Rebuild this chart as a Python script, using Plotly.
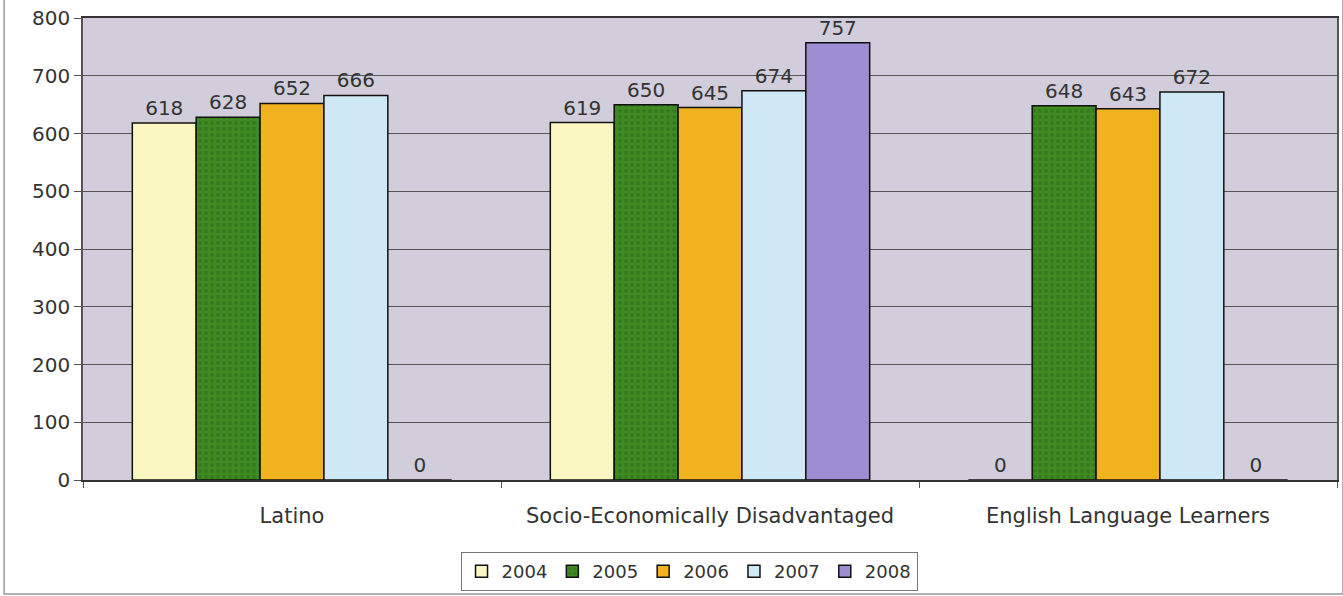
import plotly.graph_objects as go

categories = ["Latino", "Socio-Economically Disadvantaged", "English Language Learners"]
years = ["2004", "2005", "2006", "2007", "2008"]
v2004 = [618, 619, 0]
v2005 = [628, 650, 648]
v2006 = [652, 645, 643]
v2007 = [666, 674, 672]
v2008 = [0, 757, 0]
series = [v2004, v2005, v2006, v2007, v2008]
colors = ["#FAF7C2", "#3F8A22", "#F1B21F", "#CFE8F6", "#9D8ED2"]
y_ticks = [0, 100, 200, 300, 400, 500, 600, 700, 800]

FONT = "DejaVu Sans, sans-serif"

fig = go.Figure()
for yr, vals, col in zip(years, series, colors):
    marker = dict(color=col, line=dict(color="#111", width=1.5))
    if yr == "2005":
        marker["pattern"] = dict(shape=".", fgcolor="#2C6A16", bgcolor=col, size=6, solidity=0.35)
    fig.add_trace(go.Bar(
        name=yr, x=categories, y=vals,
        text=[str(v) for v in vals], textposition="outside",
        textfont=dict(family=FONT, size=20, color="#333"),
        cliponaxis=False,
        marker=marker,
    ))

W, H = 1343, 596
L, R, T, B = 83, 1339, 18, 480
PW, PH = R - L, B - T
fig.update_layout(
    width=W, height=H,
    barmode="group", bargap=0.236, bargroupgap=0,
    paper_bgcolor="white", plot_bgcolor="#D1CDDA",
    margin=dict(l=L, r=W - R, t=T, b=H - B),
    font=dict(family=FONT, size=20, color="#333"),
    showlegend=True,
    legend=dict(orientation="h", x=(690 - L) / PW, xanchor="center", y=-(552 - B) / PH, yanchor="top",
                bordercolor="#777", borderwidth=1, bgcolor="white",
                font=dict(family=FONT, size=18, color="#333"),
                itemwidth=30, traceorder="normal", tracegroupgap=0),
)
fig.update_yaxes(range=[0, 800], tickvals=y_ticks, showgrid=True, gridcolor="#555", gridwidth=1,
                 ticks="outside", ticklen=7, tickcolor="#555", showline=True, linecolor="#555",
                 linewidth=1.5, mirror=True, zeroline=False,
                 tickfont=dict(family=FONT, size=20, color="#333"))
fig.update_xaxes(showline=True, linecolor="#333", linewidth=1.5, mirror=True,
                 tickson="boundaries", ticks="outside", ticklen=6, tickcolor="#555",
                 ticklabelstandoff=16,
                 tickfont=dict(family=FONT, size=21, color="#333"))
fig.add_shape(type="rect", xref="paper", yref="paper",
              x0=(4 - L) / PW, x1=(1345 - L) / PW,
              y0=-(594 - B) / PH, y1=1 + 30 / PH,
              line=dict(color="#999", width=1.5), fillcolor="rgba(0,0,0,0)", layer="below")
fig.write_html("out.html")
